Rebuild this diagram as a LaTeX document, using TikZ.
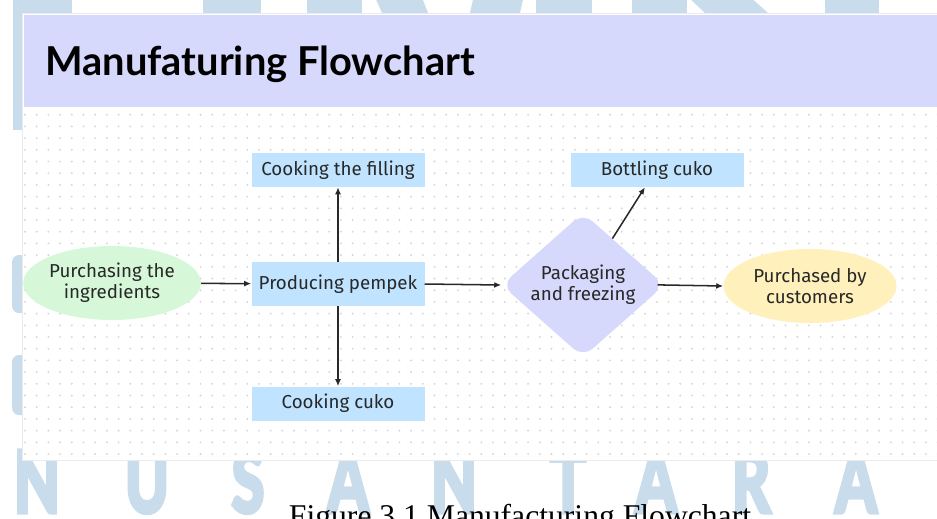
\documentclass[tikz,border=0pt]{standalone}
\usepackage{fontspec}
\newfontfamily\titlefont{Lato}
\newfontfamily\markfont[FakeBold=6]{Lato}
\newfontfamily\stepfont{Fira Sans}
\newfontfamily\capfont{Liberation Serif}
\usepackage{tikz}
\usetikzlibrary{arrows.meta,shapes.geometric}
\definecolor{boxblue}{RGB}{192,228,255}
\definecolor{mintgreen}{RGB}{214,248,216}
\definecolor{lavender}{RGB}{214,216,252}
\definecolor{sand}{RGB}{255,240,188}
\definecolor{markblue}{RGB}{201,220,236}
\definecolor{dotgray}{RGB}{214,214,214}
\definecolor{inkgray}{RGB}{40,40,40}
\tikzset{
box/.style = {rectangle, fill=boxblue, minimum width = #1, minimum height=1.02cm,
  text=inkgray, font=\stepfont\fontsize{16}{18}\selectfont},
box/.default = 5.19cm, % width of the process boxes
oval/.style = {ellipse, fill=#1, minimum width=5.19cm, minimum height=2.22cm, inner sep=0pt,
  align=center, text=inkgray, font=\stepfont\fontsize{16}{18}\selectfont},
rhombus/.style = {diamond, fill=lavender, minimum width=4.89cm, minimum height=3.48cm,
  inner sep=0pt, rounded corners=11pt, align=center, text=inkgray,
  font=\stepfont\fontsize{16}{18}\selectfont},
flow/.style = {->, draw=inkgray, line width=1.3pt},
}

\begin{document}
\begin{tikzpicture}[x=0.03cm, y=-0.03cm, >={Latex[length=6pt,width=5pt]}]
    \useasboundingbox (0,0) rectangle (937,518);
    \clip (0,0) rectangle (937,518);

    % watermark behind the board
    \fill[markblue] (13,-5) rectangle (72,13);
    \fill[markblue] (203,-5) rectangle (261,13);
    \fill[markblue] (307,-5) rectangle (362,13);
    \fill[markblue] (374,-5) -- (421,-5) -- (428,13) -- (382,13) -- cycle;
    \fill[markblue] (474,-5) -- (524,-5) -- (520,13) -- (470,13) -- cycle;
    \fill[markblue] (536,-5) rectangle (592,13);
    \fill[markblue] (632,-5) rectangle (687,13);
    \fill[markblue] (686,-5) -- (748,-5) -- (768,13) -- (705,13) -- cycle;
    \fill[markblue] (825,-5) rectangle (879,13);
    \fill[markblue] (13,0) rectangle (30,130);
    \fill[markblue, rounded corners=6pt] (12,255) rectangle (40,313);
    \fill[markblue, rounded corners=6pt] (12,355) rectangle (40,415);
    \foreach \x/\ch in {37/N,147/U,248/S,348/A,454/N,568/T,656/A,751/R,856/A}
        \node[text=markblue, font=\markfont\bfseries\fontsize{72}{80}\selectfont,
              anchor=base, inner sep=0pt] (mark\ch\x) at (\x,512) {\scalebox{0.7}[1]{\ch}};

    % board with dotted grid
    \fill[white, draw=black!8] (22,13) rectangle (945,460);
    \foreach \i in {0,...,78}
        \foreach \j in {0,...,29}
            \fill[dotgray] (25+\i*11.7, 114.7+\j*11.7) circle (0.9pt);
    \fill[lavender] (24,15) rectangle (945,107);
    \node[anchor=base west, inner sep=0pt, font=\titlefont\bfseries\fontsize{34}{40}\selectfont]
        (title) at (45,75) {Manufaturing Flowchart};

    % steps
    \node[oval=mintgreen] (purchase) at (112,283) {Purchasing the\\ingredients};
    \node[box, minimum height=1.32cm] (produce) at (338,284) {Producing pempek};
    \node[box] (filling) at (338,170) {Cooking the filling};
    \node[box] (cookCuko) at (338,403.5) {Cooking cuko};
    \node[rhombus] (pack) at (583,285) {Packaging\\and freezing};
    \node[box] (bottle) at (657,170) {Bottling cuko};
    \node[oval=sand] (customer) at (810,286) {Purchased by\\customers};

    \draw[flow] (purchase) -- (produce);
    \draw[flow] (produce) -- (filling);
    \draw[flow] (produce) -- (cookCuko);
    \draw[flow] (produce.east) -- (pack.west);
    \draw[flow] (pack) -- (bottle.235);
    \draw[flow, shorten <=-6pt] (pack.east) -- (customer.west);

    % caption, cut by the page edge
    \node[anchor=base, inner sep=0pt, font=\capfont\fontsize{27}{30}\selectfont]
        (caption) at (520,526) {Figure 3.1 Manufacturing Flowchart};
\end{tikzpicture}
\end{document}
